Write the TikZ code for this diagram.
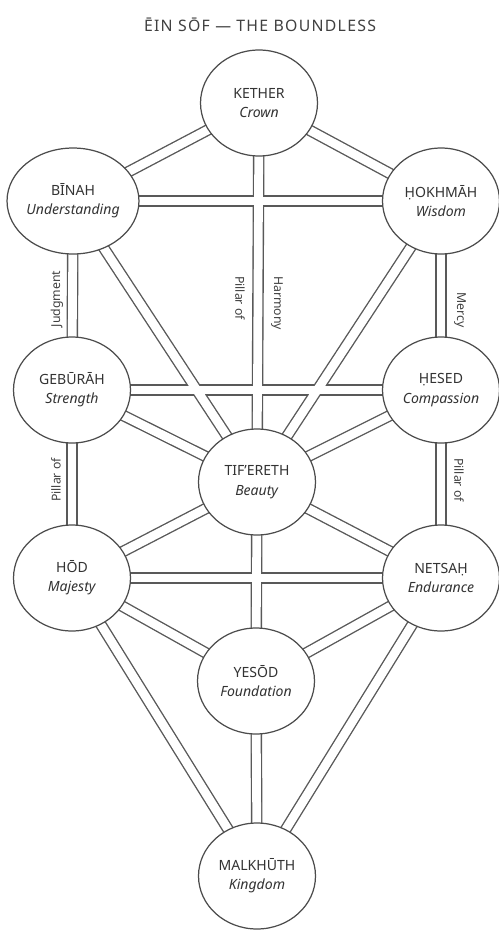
\documentclass[tikz,border=0pt]{standalone}
\usepackage{fontspec}
\setmainfont{Noto Sans}
\usetikzlibrary{shapes.geometric,backgrounds}
\begin{document}
\begin{tikzpicture}[x=0.02cm,y=-0.02cm,
	sph/.style={draw=black!70,ellipse,inner sep=0pt,minimum width=2.34cm,minimum height=2.12cm,fill=white,line width=0.7pt,align=center,text=black!80,font=\fontsize{8}{10}\selectfont},
	chan/.style={line width=0.23cm,draw=black!65},
	chanin/.style={line width=0.175cm,draw=white},
	pillar/.style={text=black!75,font=\fontsize{7}{8}\selectfont}]
	\useasboundingbox (0,0) rectangle (498,930);
	\node[text=black!75,font=\fontsize{9}{10}\addfontfeatures{LetterSpace=8}] (t) at (260,25) {ĒIN SŌF — THE BOUNDLESS};
	\node[sph] (s1) at (259,103) {KETHER\\[1pt]\textit{Crown}};
	\node[sph] (s2) at (441,201) {ḤOKHMĀH\\[1pt]\textit{Wisdom}};
	\node[sph] (s3) at (73,201) {BĪNAH\\[1pt]\textit{Understanding}};
	\node[sph] (s4) at (441,390) {ḤESED\\[1pt]\textit{Compassion}};
	\node[sph] (s5) at (72,390) {GEBŪRĀH\\[1pt]\textit{Strength}};
	\node[sph] (s6) at (257,482) {TIF’ERETH\\[1pt]\textit{Beauty}};
	\node[sph] (s7) at (441,578) {NETSAḤ\\[1pt]\textit{Endurance}};
	\node[sph] (s8) at (72,578) {HŌD\\[1pt]\textit{Majesty}};
	\node[sph] (s9) at (256,681) {YESŌD\\[1pt]\textit{Foundation}};
	\node[sph] (s10) at (257,876) {MALKHŪTH\\[1pt]\textit{Kingdom}};
	% the 22 paths
	\def\paths{s1/s3,s1/s2,s1/s6,s3/s2,s3/s5,s3/s6,s2/s4,s2/s6,s5/s4,s5/s6,s4/s6,s5/s8,s4/s7,s6/s8,s6/s7,s6/s9,s8/s7,s8/s9,s7/s9,s8/s10,s7/s10,s9/s10}
	\begin{scope}[on background layer]
		\foreach \a/\b in \paths \draw[chan] (\a.center) -- (\b.center);
		\foreach \a/\b in \paths \draw[chanin] (\a.center) -- (\b.center);
	\end{scope}
	% pillars
	\node[pillar,rotate=90] (j1) at (57,299) {Judgment};
	\node[pillar,rotate=90] (j2) at (56,480) {Pillar of};
	\node[pillar,rotate=-90] (h1) at (240,298) {Pillar of};
	\node[pillar,rotate=-90] (h2) at (277,303) {Harmony};
	\node[pillar,rotate=-90] (m1) at (460,310) {Mercy};
	\node[pillar,rotate=-90] (m2) at (459,480) {Pillar of};
\end{tikzpicture}
\end{document}
